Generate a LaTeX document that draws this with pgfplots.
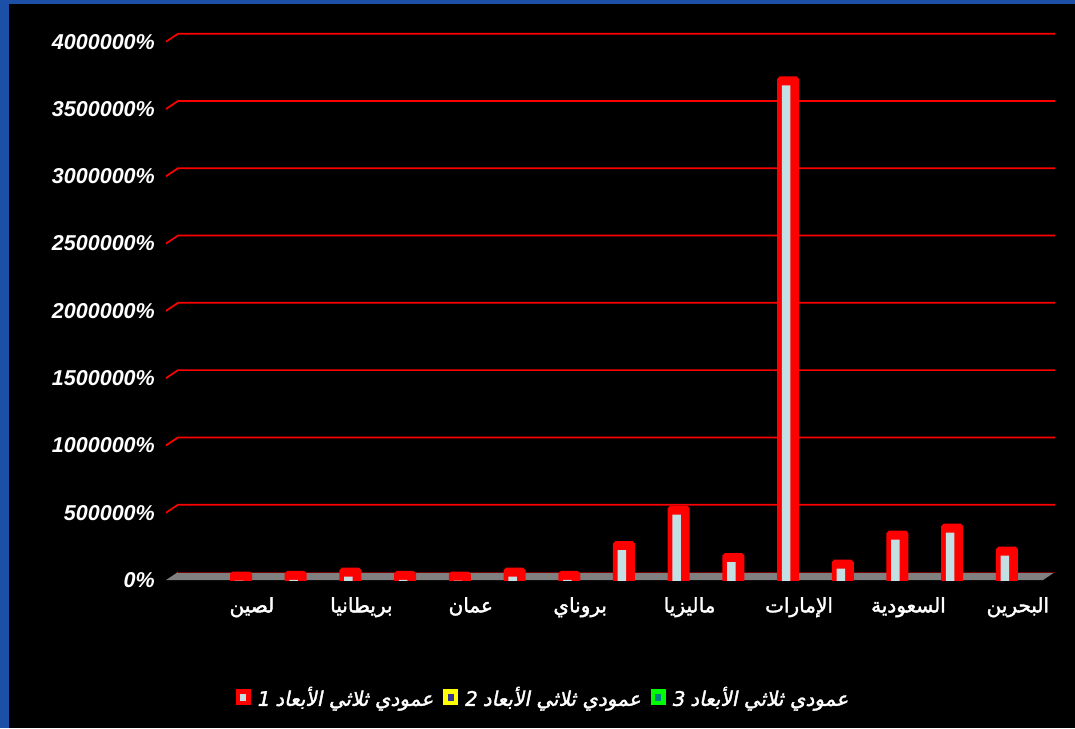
\documentclass[border=0pt]{standalone}
\usepackage{pgfplots}
\usepackage{pgfplotstable}
\pgfplotsset{compat=1.18}
\usepackage{fontspec}
\setmainfont{Liberation Sans}
\newfontfamily\arfont[Script=Arabic,FakeBold=1.8]{DejaVu Sans}
\newfontfamily\arlegend[Script=Arabic,FakeBold=1.8,FakeSlant=0.2]{DejaVu Sans}
\TeXXeTstate=1

\definecolor{slideblue}{HTML}{1C4FA8}
\definecolor{barred}{HTML}{FF0000}
\definecolor{barface}{HTML}{C2E0E4}
\definecolor{floorgray}{HTML}{808080}
\definecolor{legyellow}{HTML}{FFFF00}
\definecolor{legnavy}{HTML}{333399}
\definecolor{leggreen}{HTML}{00FF00}
\definecolor{legteal}{HTML}{008080}

% one value per column, in category order
\pgfplotstableread{
x val
0 40000
1 45000
2 70000
3 45000
4 40000
5 70000
6 45000
7 267000
8 530000
9 178000
10 3720000
11 130000
12 345000
13 397000
14 226000
}\seriesone

\pgfplotsset{
  chartframe/.style={
    at={(166pt,148pt)}, anchor=south west,
    scale only axis, width=877pt, height=538.3pt,
    xmin=-1.371, xmax=14.66, ymin=0, ymax=4000000,
    axis line style={draw=none}, major tick length=0pt,
    scaled y ticks=false,
  },
  % square swatch with an inner face, plus a little room before the text
  swatch/.style 2 args={legend image code/.code={
    \fill[#1] (0pt,-7.5pt) rectangle (14pt,7.5pt);
    \fill[#2] (4.5pt,-3pt) rectangle (9.5pt,3pt);
    \path (18pt,0pt);}},
}

\begin{document}
\begin{tikzpicture}
\useasboundingbox (0,0) rectangle (1075pt,728pt);
\fill[slideblue] (0,0) rectangle (1075pt,728pt);
\fill[black] (9pt,0) rectangle (1075pt,724pt);

% back wall: floor, grid lines and value labels
\begin{axis}[chartframe, clip=false,
  xtick=\empty,
  ytick={0,500000,1000000,1500000,2000000,2500000,3000000,3500000,4000000},
  yticklabels={0\%,500000\%,1000000\%,1500000\%,2000000\%,2500000\%,3000000\%,3500000\%,4000000\%},
  yticklabel style={anchor=east, inner sep=0pt, xshift=-11pt, text=white,
    font=\fontsize{21.5}{26}\selectfont\bfseries\itshape},
]
\fill[floorgray] (axis cs:-1.371,0) -- ++(12pt,8pt)
  -- ([shift={(12pt,8pt)}]axis cs:14.66,0) -- (axis cs:14.66,0) -- cycle;
\draw[red!45!black, line width=0.8pt] ([shift={(12pt,8pt)}]axis cs:-1.371,0)
  -- ([shift={(12pt,8pt)}]axis cs:14.66,0);
\pgfplotsinvokeforeach{500000,1000000,1500000,2000000,2500000,3000000,3500000,4000000}{
  \draw[barred, line width=1.7pt] (axis cs:-1.371,#1) -- ++(12pt,8pt)
    -- ([shift={(12pt,8pt)}]axis cs:14.66,#1);
}
\end{axis}

% columns, category names and legend
\begin{axis}[chartframe, clip=true,
  ytick=\empty,
  xtick={0.2,2.2,4.2,6.2,8.2,10.2,12.2,14.2},
  xticklabels={
    {\arfont\beginR لصين\endR},
    {\arfont\beginR بريطانيا\endR},
    {\arfont\beginR عمان\endR},
    {\arfont\beginR بروناي\endR},
    {\arfont\beginR ماليزيا\endR},
    {\arfont\beginR الإمارات\endR},
    {\arfont\beginR السعودية\endR},
    {\arfont\beginR البحرين\endR}},
  xticklabel style={anchor=north, inner sep=0pt, yshift=-17pt, text=white,
    font=\fontsize{20}{23}\selectfont},
  legend style={at={(0.43,-0.2174)}, anchor=center, draw=none, fill=none,
    text=white, font=\fontsize{20}{23}\selectfont,
    /tikz/every even column/.append style={column sep=8pt}},
  legend columns=3,
]
\addplot[ybar, forget plot, bar width=16pt, bar shift=0pt,
  draw=barred, fill=barred, line width=6pt, rounded corners=0.8pt]
  table[x=x, y=val] {\seriesone};
\addplot[ybar, forget plot, bar width=8.5pt, bar shift=-2pt,
  draw=none, fill=barface, yshift=-6pt]
  table[x=x, y=val] {\seriesone};

\addlegendimage{swatch={barred}{barface}}
\addlegendentry{\arlegend\beginR عمودي ثلاثي الأبعاد 1\endR}
\addlegendimage{swatch={legyellow}{legnavy}}
\addlegendentry{\arlegend\beginR عمودي ثلاثي الأبعاد 2\endR}
\addlegendimage{swatch={leggreen}{legteal}}
\addlegendentry{\arlegend\beginR عمودي ثلاثي الأبعاد 3\endR}
\end{axis}
\end{tikzpicture}
\end{document}
